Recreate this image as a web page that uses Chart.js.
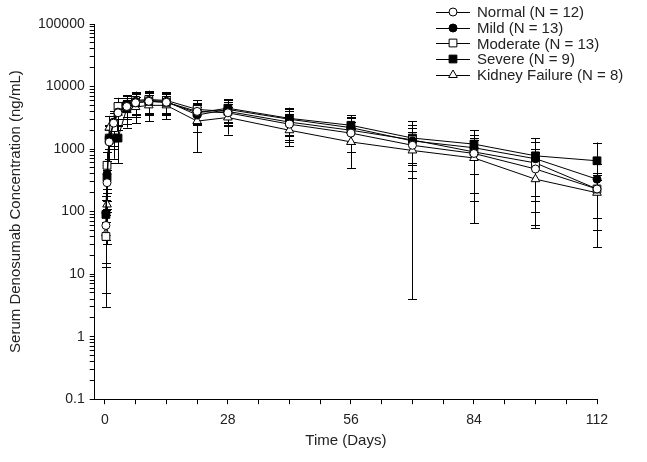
<!DOCTYPE html>
<html lang="en">
<head>
<meta charset="UTF-8">
<title>Serum Denosumab Concentration</title>
<script src="https://cdn.jsdelivr.net/npm/chart.js@4.4.0/dist/chart.umd.min.js"></script>
<style>
  html, body { margin: 0; padding: 0; background: #fff; }
  #wrap { position: relative; width: 647px; height: 462px; }
  #legend { position: absolute; left: 436px; top: 4px; font-family: 'Liberation Sans', Arial, sans-serif; font-size: 15px; color: #222; }
  .row { display: flex; align-items: center; height: 15.7px; white-space: nowrap; }
  .row canvas { margin-right: 7px; }
</style>
</head>
<body>
<div id="wrap">
  <canvas id="pk" width="647" height="462"></canvas>
  <div id="legend"></div>
</div>
<script>
    // sampling times (days)
    const days = [0.25, 0.5, 1, 2, 3, 5, 7, 10, 14, 21, 28, 42, 56, 70, 84, 98, 112];

    // mean and SD per renal function group (ng/mL)
    const normalMean = [60, 290, 1300, 2600, 3800, 4800, 5500, 5800, 5600, 4000, 3800, 2500, 1800, 1150, 850, 480, 230];
    const normalSD   = [45, 180, 700, 1200, 1500, 1800, 2000, 2200, 2000, 1500, 1500, 1200, 900, 700, 650, 425, 150];
    const mildMean   = [95, 400, 1500, 2700, 3900, 5200, 5800, 6000, 5800, 3500, 4300, 3000, 2200, 1350, 1050, 700, 330];
    const mildSD     = [60, 250, 800, 1300, 1600, 2000, 2200, 2300, 2100, 1600, 1700, 1300, 1000, 800, 650, 600, 250];
    const modMean    = [40, 550, 1500, 2200, 4800, 5000, 6000, 6200, 6000, 4300, 4000, 2700, 2000, 1400, 900, 600, 230];
    const modSD      = [27, 350, 900, 1200, 1800, 2000, 2300, 2400, 2200, 1700, 1600, 1300, 1100, 1396, 750, 420, 180];
    const sevMean    = [90, 350, 1400, 1500, 1500, 4500, 5500, 5800, 5600, 3800, 4500, 3100, 2400, 1500, 1200, 780, 650];
    const sevSD      = [85, 250, 700, 800, 900, 2000, 2200, 2300, 2100, 1400, 1800, 1500, 1100, 900, 800, 720, 623];
    const kfMean     = [45, 130, 2200, 2600, 3800, 4200, 4700, 5000, 5000, 2800, 3200, 2000, 1300, 950, 720, 330, 200];
    const kfSD       = [42, 100, 1200, 1500, 1800, 2000, 2100, 2200, 2000, 1900, 1500, 900, 800, 600, 655, 180, 120];

    const groupNames = ['Normal (N = 12)', 'Mild (N = 13)', 'Moderate (N = 13)', 'Severe (N = 9)', 'Kidney Failure (N = 8)'];

    const xTickValues = [0, 7, 14, 21, 28, 35, 42, 49, 56, 63, 70, 77, 84, 91, 98, 105, 112];
    const xLabelValues = [0, 28, 56, 84, 112];
    const yDecades = [0.1, 1, 10, 100, 1000, 10000, 100000];

    const FONT = "'Liberation Sans', Arial, sans-serif";

    const styles = [
        {shape: 'circle', fill: '#fff', r: 4},
        {shape: 'circle', fill: '#000', r: 4},
        {shape: 'rect', fill: '#fff', r: 5.5},
        {shape: 'rect', fill: '#000', r: 5.5},
        {shape: 'triangle', fill: '#fff', r: 5}
    ];
    const means = [normalMean, mildMean, modMean, sevMean, kfMean];
    const sds = [normalSD, mildSD, modSD, sevSD, kfSD];

    function toXY(arr) {
        return arr.map((v, i) => ({x: days[i], y: v}));
    }

    const datasets = groupNames.map((name, k) => ({
        label: name,
        data: toXY(means[k]),
        sd: sds[k],
        borderColor: '#000',
        borderWidth: 1,
        pointStyle: styles[k].shape,
        pointRadius: styles[k].r,
        pointBackgroundColor: styles[k].fill,
        pointBorderColor: '#000',
        pointBorderWidth: 1,
        tension: 0,
        fill: false,
        clip: 8
    }));

    // error bars (mean +/- SD) drawn through the y scale
    const errorBars = {
        id: 'errorBars',
        beforeDatasetsDraw(chart) {
            const ctx = chart.ctx;
            const ys = chart.scales.y;
            const area = chart.chartArea;
            const cap = 4.5;
            ctx.save();
            ctx.beginPath();
            ctx.rect(area.left, area.top, area.right - area.left + 10, area.bottom - area.top);
            ctx.clip();
            ctx.strokeStyle = '#000';
            ctx.lineWidth = 1;
            chart.data.datasets.forEach((ds, k) => {
                const meta = chart.getDatasetMeta(k);
                meta.data.forEach((pt, i) => {
                    const m = ds.data[i].y;
                    const s = ds.sd[i];
                    const x = Math.round(pt.x) + 0.5;
                    const yHi = ys.getPixelForValue(m + s);
                    const lo = m - s;
                    const yLo = lo > 0 ? ys.getPixelForValue(lo) : area.bottom;
                    ctx.beginPath();
                    ctx.moveTo(x, yHi);
                    ctx.lineTo(x, yLo);
                    ctx.moveTo(x - cap, Math.round(yHi) + 0.5);
                    ctx.lineTo(x + cap, Math.round(yHi) + 0.5);
                    if (lo > 0) {
                        ctx.moveTo(x - cap, Math.round(yLo) + 0.5);
                        ctx.lineTo(x + cap, Math.round(yLo) + 0.5);
                    }
                    ctx.stroke();
                });
            });
            ctx.restore();
        }
    };

    const chart = new Chart(document.getElementById('pk').getContext('2d'), {
        type: 'line',
        data: {datasets: datasets},
        options: {
            responsive: false,
            animation: false,
            layout: {padding: {left: 3, right: 50, top: 24, bottom: 14}},
            plugins: {
                legend: {display: false},
                tooltip: {enabled: false}
            },
            scales: {
                x: {
                    type: 'linear',
                    min: -2.3,
                    max: 112,
                    afterBuildTicks: (scale) => { scale.ticks = xTickValues.map(v => ({value: v})); },
                    ticks: {
                        autoSkip: false,
                        maxRotation: 0,
                        color: '#222',
                        font: {family: FONT, size: 14},
                        padding: 8,
                        callback: (v) => xLabelValues.includes(v) ? String(v) : ''
                    },
                    grid: {drawOnChartArea: false, drawTicks: true, tickLength: 5, color: '#000'},
                    border: {display: true, color: '#000', width: 1},
                    title: {display: true, text: 'Time (Days)', color: '#222', font: {family: FONT, size: 15}, padding: {top: -5, bottom: -2}}
                },
                y: {
                    type: 'logarithmic',
                    min: 0.1,
                    max: 100000,
                    afterBuildTicks: (scale) => {
                        const t = [];
                        yDecades.forEach((d, i) => {
                            t.push({value: d});
                            if (i < yDecades.length - 1) {
                                for (let m = 2; m <= 9; m++) t.push({value: d * m});
                            }
                        });
                        scale.ticks = t;
                    },
                    ticks: {
                        autoSkip: false,
                        color: '#222',
                        font: {family: FONT, size: 14},
                        padding: 5,
                        callback: (v) => {
                            const l = Math.log10(v);
                            return Math.abs(l - Math.round(l)) < 1e-6 ? String(yDecades[Math.round(l) + 1]) : '';
                        }
                    },
                    grid: {drawOnChartArea: false, drawTicks: true, tickLength: 5, color: '#000'},
                    border: {display: true, color: '#000', width: 1},
                    title: {display: true, text: 'Serum Denosumab Concentration (ng/mL)', color: '#222', font: {family: FONT, size: 15}, padding: {bottom: 8}}
                }
            }
        },
        plugins: [errorBars]
    });

    // legend: line + marker, then the group name
    function drawMarker(c, st) {
        const g = c.getContext('2d');
        const cy = c.height / 2;
        g.strokeStyle = '#000';
        g.lineWidth = 1;
        g.beginPath();
        g.moveTo(0, Math.round(cy) + 0.5);
        g.lineTo(c.width, Math.round(cy) + 0.5);
        g.stroke();
        g.fillStyle = st.fill;
        const cx = c.width / 2;
        g.beginPath();
        if (st.shape === 'circle') {
            g.arc(cx, cy, st.r, 0, Math.PI * 2);
        } else if (st.shape === 'rect') {
            const s = st.r * Math.SQRT1_2;
            g.rect(cx - s, cy - s, 2 * s, 2 * s);
        } else {
            g.moveTo(cx, cy - st.r);
            g.lineTo(cx + st.r * 0.866, cy + st.r * 0.5);
            g.lineTo(cx - st.r * 0.866, cy + st.r * 0.5);
            g.closePath();
        }
        g.fill();
        g.stroke();
    }

    const legendEl = document.getElementById('legend');
    chart.data.datasets.forEach((ds, k) => {
        const row = document.createElement('div');
        row.className = 'row';
        const c = document.createElement('canvas');
        c.width = 34;
        c.height = 14;
        drawMarker(c, styles[k]);
        const span = document.createElement('span');
        span.textContent = ds.label;
        row.appendChild(c);
        row.appendChild(span);
        legendEl.appendChild(row);
    });
</script>
</body>
</html>
